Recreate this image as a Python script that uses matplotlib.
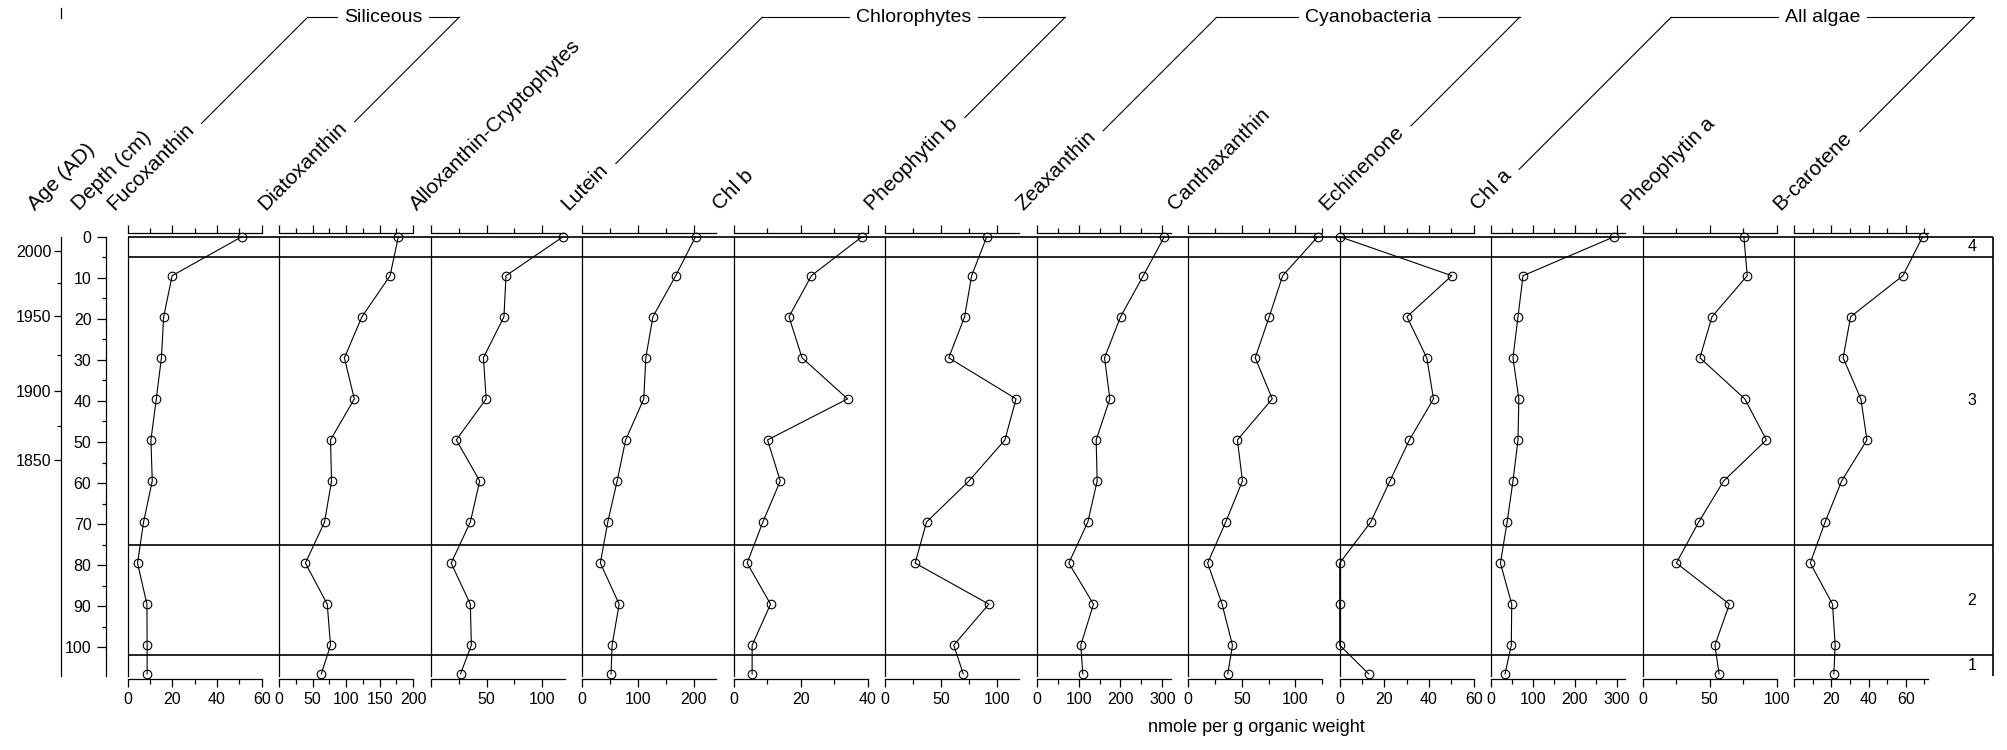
import numpy as np
import matplotlib
matplotlib.use("Agg")
import matplotlib.pyplot as plt
from matplotlib.ticker import MultipleLocator, FuncFormatter
from matplotlib.textpath import TextToPath
from matplotlib.font_manager import FontProperties

plt.rcParams['font.family'] = ['Liberation Sans', 'DejaVu Sans']

# ---------------------------------------------------------------- data
depth = [0, 9.5, 19.5, 29.5, 39.5, 49.5, 59.5, 69.5, 79.5, 89.5, 99.5, 106.5]

pigments = ["Fucoxanthin", "Diatoxanthin", "Alloxanthin-Cryptophytes", "Lutein",
            "Chl b", "Pheophytin b", "Zeaxanthin", "Canthaxanthin", "Echinenone",
            "Chl a", "Pheophytin a", "B-carotene"]

fucoxanthin = [51.1, 19.9, 16.1, 15.1, 12.8, 10.4, 11.0, 7.1, 4.4, 8.6, 8.7, 8.7]
diatoxanthin = [177.8, 165.5, 123.5, 97.3, 112.1, 76.6, 78.1, 67.7, 39.1, 71.7, 76.6, 62.8]
alloxanthin = [118.6, 67.4, 65.6, 47.2, 49.7, 22.9, 43.9, 35.5, 18.3, 35.5, 36.4, 26.7]
lutein = [203.0, 167.5, 126.6, 113.9, 110.3, 77.8, 62.6, 45.8, 32.5, 66.2, 53.5, 51.7]
chl_b = [38.3, 23.2, 16.5, 20.4, 34.0, 10.1, 13.9, 8.7, 4.0, 11.0, 5.5, 5.5]
pheophytin_b = [91.0, 77.4, 71.1, 56.9, 117.2, 107.2, 75.0, 37.0, 26.8, 92.8, 61.4, 69.9]
zeaxanthin = [304.8, 254.5, 200.3, 162.0, 174.7, 142.0, 144.4, 122.1, 76.6, 135.6, 105.3, 110.1]
canthaxanthin = [120.9, 88.1, 75.6, 62.5, 78.4, 45.9, 50.6, 35.0, 18.1, 31.6, 41.3, 36.9]
echinenone = [0.0, 50.2, 30.1, 39.0, 42.0, 31.2, 22.5, 13.9, 0.0, 0.0, 0.0, 13.0]
chl_a = [294.0, 76.0, 64.0, 52.0, 66.0, 64.0, 52.0, 38.0, 22.0, 49.0, 48.0, 33.0]
pheophytin_a = [75.5, 78.0, 51.7, 42.7, 76.2, 92.3, 60.4, 41.8, 25.1, 64.7, 53.9, 57.0]
b_carotene = [69.0, 58.4, 30.3, 26.3, 35.8, 39.1, 25.5, 16.6, 8.6, 20.6, 22.0, 21.3]

series = [fucoxanthin, diatoxanthin, alloxanthin, lutein, chl_b, pheophytin_b,
          zeaxanthin, canthaxanthin, echinenone, chl_a, pheophytin_a, b_carotene]

axis_max = [60, 200, 120, 240, 40, 120, 320, 125, 60, 320, 100, 72]
major_step = [20, 50, 50, 100, 20, 50, 100, 50, 20, 100, 50, 20]
minor_step = [10, 25, 25, 50, 10, 25, 50, 25, 10, 50, 25, 10]
show_zero = [True, True, False, True, True, True, True, True, True, True, True, False]

groups = [("Siliceous", 0, 1), ("Chlorophytes", 3, 5),
          ("Cyanobacteria", 6, 8), ("All algae", 9, 11)]

zone_edges = [0, 5, 75, 102, 107]
zone_names = ["4", "3", "2", "1"]

age_years = [2000, 1975, 1950, 1925, 1900, 1875, 1850]
age_depths = [3.6, 11.3, 19.4, 28.7, 37.7, 46.2, 54.3]

depth_major = list(range(0, 101, 10))
depth_minor = list(range(5, 100, 10))

# ---------------------------------------------------------------- layout (pixels)
W, H, DPI = 2007, 750, 100
TOP, BOT = 236.7, 676.0
PANEL_X0, PANEL_STEP, PANEL_W = 127.7, 151.5, 134.0
RIGHT_EDGE = 1993.4
AGE_X, DEPTH_X = 60.7, 105.7
ZONE_LABEL_X = 1972.0
HEADER_Y = 210.7
GROUP_Y = 17.3
HEAD_FS, TICK_FS, GROUP_FS = 15, 11.5, 14
LW = 0.9


def rect(x_px, w_px):
    return [x_px / W, 1 - BOT / H, w_px / W, (BOT - TOP) / H]


fig = plt.figure(figsize=(W / DPI, H / DPI), dpi=DPI)

# zone frame behind the panels
zax = fig.add_axes(rect(PANEL_X0, RIGHT_EDGE - PANEL_X0))
zax.set_xlim(0, 1)
zax.set_ylim(zone_edges[-1], 0)
zax.axis("off")
zax.hlines(zone_edges[:-1], 0, 1, color="black", lw=1.2, clip_on=False)
zax.vlines(1, zone_edges[0], zone_edges[-1], color="black", lw=1.2, clip_on=False)
zlx = (ZONE_LABEL_X - PANEL_X0) / (RIGHT_EDGE - PANEL_X0)
for name, a, b in zip(zone_names, zone_edges[:-1], zone_edges[1:]):
    zax.text(zlx, (a + b) / 2, name, ha="center", va="center", fontsize=TICK_FS)

# pigment panels
for i, vals in enumerate(series):
    ax = fig.add_axes(rect(PANEL_X0 + i * PANEL_STEP, PANEL_W))
    ax.patch.set_alpha(0)
    ax.plot(vals, depth, "-", color="black", lw=0.8, marker="o", ms=6.2,
            mfc="none", mec="black", mew=0.8, clip_on=False, zorder=3)
    ax.set_xlim(0, axis_max[i])
    ax.set_ylim(zone_edges[-1], 0)
    ax.spines["right"].set_visible(False)
    ax.spines["left"].set_linewidth(LW)
    for s in ("top", "bottom"):
        ax.spines[s].set_position(("outward", 2.4))
        ax.spines[s].set_linewidth(LW)
    ax.set_yticks([])
    ax.xaxis.set_major_locator(MultipleLocator(major_step[i]))
    ax.xaxis.set_minor_locator(MultipleLocator(minor_step[i]))
    hide0 = not show_zero[i]
    ax.xaxis.set_major_formatter(FuncFormatter(
        lambda v, p, h=hide0: "" if (h and abs(v) < 1e-9) else f"{v:g}"))
    ax.tick_params(axis="x", which="both", top=True, bottom=True,
                   labeltop=False, direction="out", width=LW,
                   labelsize=TICK_FS, pad=3)
    ax.tick_params(axis="x", which="major", length=6)
    ax.tick_params(axis="x", which="minor", length=3.4)

# depth axis
dax = fig.add_axes(rect(DEPTH_X, 1))
dax.patch.set_alpha(0)
dax.set_ylim(zone_edges[-1], 0)
for s in ("top", "bottom", "right"):
    dax.spines[s].set_visible(False)
dax.spines["left"].set_linewidth(LW)
dax.set_xticks([])
dax.set_yticks(depth_major, [str(d) for d in depth_major])
dax.set_yticks(depth_minor, minor=True)
dax.tick_params(axis="y", which="both", direction="out", width=LW,
                labelsize=TICK_FS, pad=4)
dax.tick_params(axis="y", which="major", length=6.3)
dax.tick_params(axis="y", which="minor", length=3.1)

# age axis
aax = fig.add_axes(rect(AGE_X, 1))
aax.patch.set_alpha(0)
aax.set_ylim(zone_edges[-1], 0)
for s in ("top", "bottom", "right"):
    aax.spines[s].set_visible(False)
aax.spines["left"].set_linewidth(LW)
aax.set_xticks([])
maj = [(y, d) for y, d in zip(age_years, age_depths) if y % 50 == 0]
mnr = [d for y, d in zip(age_years, age_depths) if y % 50 != 0]
aax.set_yticks([d for _, d in maj], [str(y) for y, _ in maj])
aax.set_yticks(mnr, minor=True)
aax.tick_params(axis="y", which="both", direction="out", width=LW,
                labelsize=TICK_FS, pad=1.5)
aax.tick_params(axis="y", which="major", length=5.3)
aax.tick_params(axis="y", which="minor", length=3.0)

# header overlay in pixel coordinates
pax = fig.add_axes([0, 0, 1, 1])
pax.set_xlim(0, W)
pax.set_ylim(H, 0)
pax.axis("off")
pax.patch.set_alpha(0)

tp = TextToPath()


def text_px(s, size):
    w, h, d = tp.get_text_width_height_descent(
        s, FontProperties(family="Liberation Sans", size=size), ismath=False)
    return w * DPI / 72.0


header_x = [PANEL_X0 + i * PANEL_STEP - 13.5 for i in range(len(pigments))]
for x, name in zip(header_x, pigments):
    pax.text(x, HEADER_Y, name, rotation=45, rotation_mode="anchor",
             ha="left", va="baseline", fontsize=HEAD_FS)
pax.text(35.0, HEADER_Y + 0.8, "Age (AD)", rotation=45, rotation_mode="anchor",
         ha="left", va="baseline", fontsize=HEAD_FS)
pax.text(79.0, HEADER_Y + 0.3, "Depth (cm)", rotation=45, rotation_mode="anchor",
         ha="left", va="baseline", fontsize=HEAD_FS)

r2 = np.sqrt(2)
for gname, i0, i1 in groups:
    corners = []
    for i in (i0, i1):
        x0 = header_x[i]
        t0 = (text_px(pigments[i], HEAD_FS) + 10) / r2
        tc = HEADER_Y - GROUP_Y
        pax.plot([x0 + t0, x0 + tc], [HEADER_Y - t0, GROUP_Y], color="black", lw=0.8)
        corners.append(x0 + tc)
    cx = sum(corners) / 2
    half = text_px(gname, GROUP_FS) / 2 + 7
    pax.text(cx, GROUP_Y, gname, ha="center", va="center", fontsize=GROUP_FS)
    pax.plot([corners[0], cx - half], [GROUP_Y, GROUP_Y], color="black", lw=0.8)
    pax.plot([cx + half, corners[1]], [GROUP_Y, GROUP_Y], color="black", lw=0.8)

pax.plot([AGE_X, AGE_X], [8, 18], color="black", lw=0.9)

fig.text(1256.7 / W, 1 - 728.0 / H, "nmole per g organic weight",
         ha="center", va="center", fontsize=13)

fig.savefig("out.png", dpi=DPI)
